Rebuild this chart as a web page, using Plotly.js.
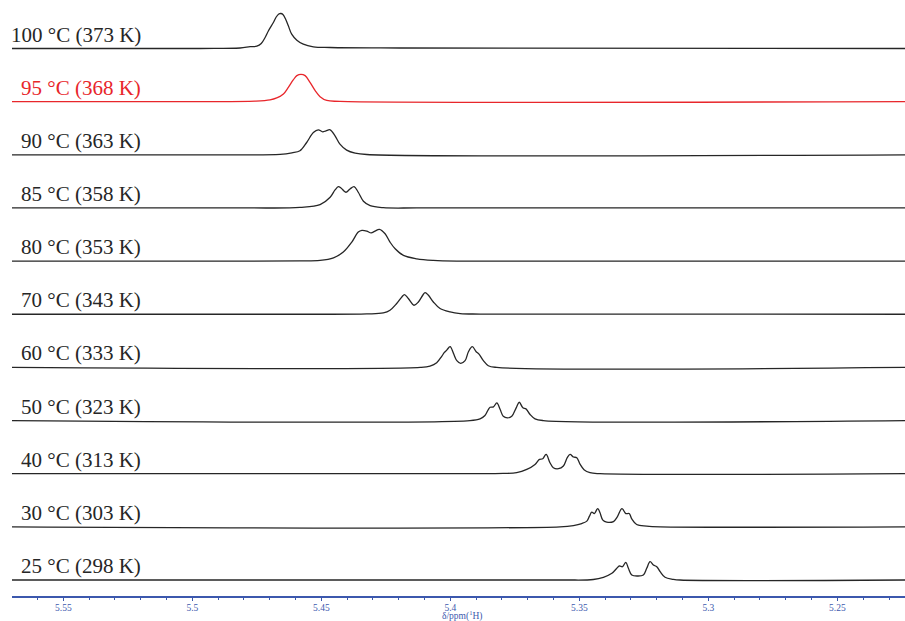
<!DOCTYPE html>
<html>
<head>
<meta charset="utf-8">
<script src="https://cdn.plot.ly/plotly-3.0.1.min.js"></script>
<style>html,body{margin:0;padding:0;background:#fff;}#chart{width:905px;height:621px;}</style>
</head>
<body>
<div id="chart"></div>
<script>
// Spectrum labels, bottom to top
const labels = ["25 °C (298 K)","30 °C (303 K)","40 °C (313 K)","50 °C (323 K)","60 °C (333 K)","70 °C (343 K)","80 °C (353 K)","85 °C (358 K)","90 °C (363 K)","95 °C (368 K)","100 °C (373 K)"];

// Chemical shifts (ppm) and intensities (arbitrary units)
const x25 = [5.570,5.3575,5.3446,5.3407,5.3374,5.3355,5.3345,5.3333,5.3320,5.3310,5.3297,5.3275,5.3252,5.3239,5.3226,5.3213,5.3200,5.3187,5.3168,5.3136,5.3110,5.223];
const y25 = [0,0,0.5,2.7,6.7,11.7,14,13.3,17.7,11.7,5,4,5,11.7,18.3,15,13.3,8.3,2.7,0.7,0,0];

const x30 = [5.570,5.3575,5.3523,5.3491,5.3471,5.3461,5.3452,5.3442,5.3429,5.3420,5.3409,5.3394,5.3368,5.3353,5.3335,5.3320,5.3307,5.3297,5.3278,5.3239,5.3187,5.223];
const y30 = [0,0,1.3,3.3,5.7,10.7,14.7,13.3,18.3,14,6.7,4.7,5.3,10,18.3,13.3,13.3,8,2.3,0.7,0,0];

const x40 = [5.570,5.3900,5.3795,5.3743,5.3704,5.3672,5.3655,5.3642,5.3629,5.3614,5.3601,5.3581,5.3562,5.3547,5.3536,5.3523,5.3510,5.3497,5.3482,5.3459,5.3420,5.223];
const y40 = [0,0,0.3,1,4.3,9.3,14.3,15,19.3,11,6,5,7.7,16,19.3,16.7,16,9.3,4,1,0,0];

const x50 = [5.570,5.3924,5.3885,5.3866,5.3853,5.3846,5.3833,5.3820,5.3807,5.3795,5.3779,5.3762,5.3745,5.3733,5.3719,5.3707,5.3691,5.3672,5.3640,5.223];
const y50 = [0,0,1.7,5,11,13.3,13.7,17.7,11,4.3,2.7,4.3,12.7,18.3,12.7,11.7,6,1.7,0,0];

const x60 = [5.570,5.4117,5.4079,5.4053,5.4033,5.4024,5.4014,5.4001,5.3988,5.3975,5.3960,5.3943,5.3930,5.3915,5.3900,5.3889,5.3872,5.3853,5.3820,5.223];
const y60 = [0,0,1.3,4.7,11.3,14.7,17.3,20.7,14,6.7,4,6.7,15.7,20.7,15.7,13.3,6.7,1.7,0,0];

const x70 = [5.570,5.4583,5.4324,5.4260,5.4234,5.4208,5.4188,5.4178,5.4163,5.4141,5.4124,5.4107,5.4098,5.4085,5.4066,5.4040,5.4001,5.3962,5.3885,5.223];
const y70 = [0,0,0.3,1.3,4,10.7,17.3,19.7,15.7,9,12.3,19,21.7,19,12.3,5.7,2.3,0.7,0.2,0];

const x80 = [5.570,5.4800,5.4583,5.4505,5.4453,5.4415,5.4382,5.4357,5.4343,5.4324,5.4307,5.4292,5.4275,5.4253,5.4234,5.4214,5.4182,5.4130,5.4066,5.3975,5.223];
const y80 = [0,0,0.2,0.7,3.3,9,19,29,30.7,30,28.2,30,31.7,27.3,19,12.3,5.7,2.3,0.7,0,0];

const x85 = [5.570,5.4800,5.4583,5.4505,5.4466,5.4447,5.4434,5.4424,5.4405,5.4389,5.4373,5.4357,5.4337,5.4311,5.4260,5.4117,5.223];
const y85 = [0,0,0.5,3.3,10.7,18,21.3,20,15.7,19,21.3,15.7,6.7,2.3,0.3,0,0];

const x90 = [5.570,5.4970,5.4660,5.4614,5.4583,5.4557,5.4531,5.4512,5.4495,5.4482,5.4466,5.4447,5.4428,5.4402,5.4369,5.4324,5.223];
const y90 = [0,0,0.5,2,4,12.3,22.3,25,23,24,25,19,10.7,4.7,1.7,0.3,0];

const x95 = [5.570,5.4970,5.4757,5.4699,5.4673,5.4647,5.4628,5.4609,5.4595,5.4579,5.4563,5.4544,5.4524,5.4505,5.4479,5.4428,5.223];
const y95 = [0,0,0.5,1.7,3.7,7.7,14.3,21.7,26,27.3,26,19.3,11,5,1.2,0.3,0];

const x100 = [5.570,5.4970,5.4815,5.4776,5.4750,5.4733,5.4718,5.4705,5.4686,5.4675,5.4665,5.4657,5.4649,5.4638,5.4628,5.4615,5.4595,5.4570,5.4531,5.4466,5.4195,5.223];
const y100 = [0,0,0.5,1.8,2.3,5,11,17.7,26,31.5,34.5,35,34,29,22.7,14.3,8.3,4.3,1.7,1,0.5,0];

const tickVals = [5.55,5.5,5.45,5.4,5.35,5.3,5.25];
const tickText = ["5.55","5.5","5.45","5.4","5.35","5.3","5.25"];

const xs = [x25,x30,x40,x50,x60,x70,x80,x85,x90,x95,x100];
const ys = [y25,y30,y40,y50,y60,y70,y80,y85,y90,y95,y100];

const RED = '#e8262b', BLACK = '#262626', BLUE = '#3c58ad';
const step = 53.15, base0 = 16;

const traces = [];
const annotations = [];
for (let i = 0; i < xs.length; i++) {
  const off = base0 + i * step;
  const col = (i === 9) ? RED : BLACK;
  traces.push({
    x: xs[i],
    y: ys[i].map(v => v + off),
    type: 'scatter', mode: 'lines',
    line: {color: col, width: 1.3, shape: 'spline', smoothing: 1},
    hoverinfo: 'skip', showlegend: false
  });
  annotations.push({
    xref: 'paper', yref: 'y',
    x: 0.1466, y: off + 14,
    xanchor: 'right', yanchor: 'middle',
    text: labels[i], showarrow: false,
    font: {family: 'Liberation Serif, Times New Roman, serif', size: 21, color: col}
  });
}
annotations.push({
  xref: 'paper', yref: 'paper', x: 0.505, y: -0.0335,
  xanchor: 'center', yanchor: 'middle', showarrow: false, borderpad: 0,
  text: 'δ/ppm(<sup>1</sup>H)',
  font: {family: 'Liberation Serif, Times New Roman, serif', size: 9.5, color: BLUE}
});

const layout = {
  width: 905, height: 621,
  margin: {l: 12, r: 0, t: 0, b: 25, pad: 0},
  paper_bgcolor: '#ffffff', plot_bgcolor: '#ffffff',
  xaxis: {
    range: [5.5699, 5.2238],
    tickmode: 'array', tickvals: tickVals, ticktext: tickText,
    ticks: 'outside', ticklen: 3, tickwidth: 1, tickcolor: BLUE,
    ticklabelstandoff: -1,
    minor: {dtick: 0.01, tick0: 5.25, ticks: 'outside', ticklen: 2, tickwidth: 1, tickcolor: BLUE, showgrid: false},
    showline: true, linecolor: BLUE, linewidth: 1.5,
    showgrid: false, zeroline: false,
    tickfont: {family: 'Liberation Serif, Times New Roman, serif', size: 9.5, color: BLUE}
  },
  yaxis: {range: [0, 596], visible: false, showgrid: false, zeroline: false, fixedrange: true},
  annotations: annotations
};

Plotly.newPlot('chart', traces, layout, {staticPlot: true, displayModeBar: false});
</script>
</body>
</html>
